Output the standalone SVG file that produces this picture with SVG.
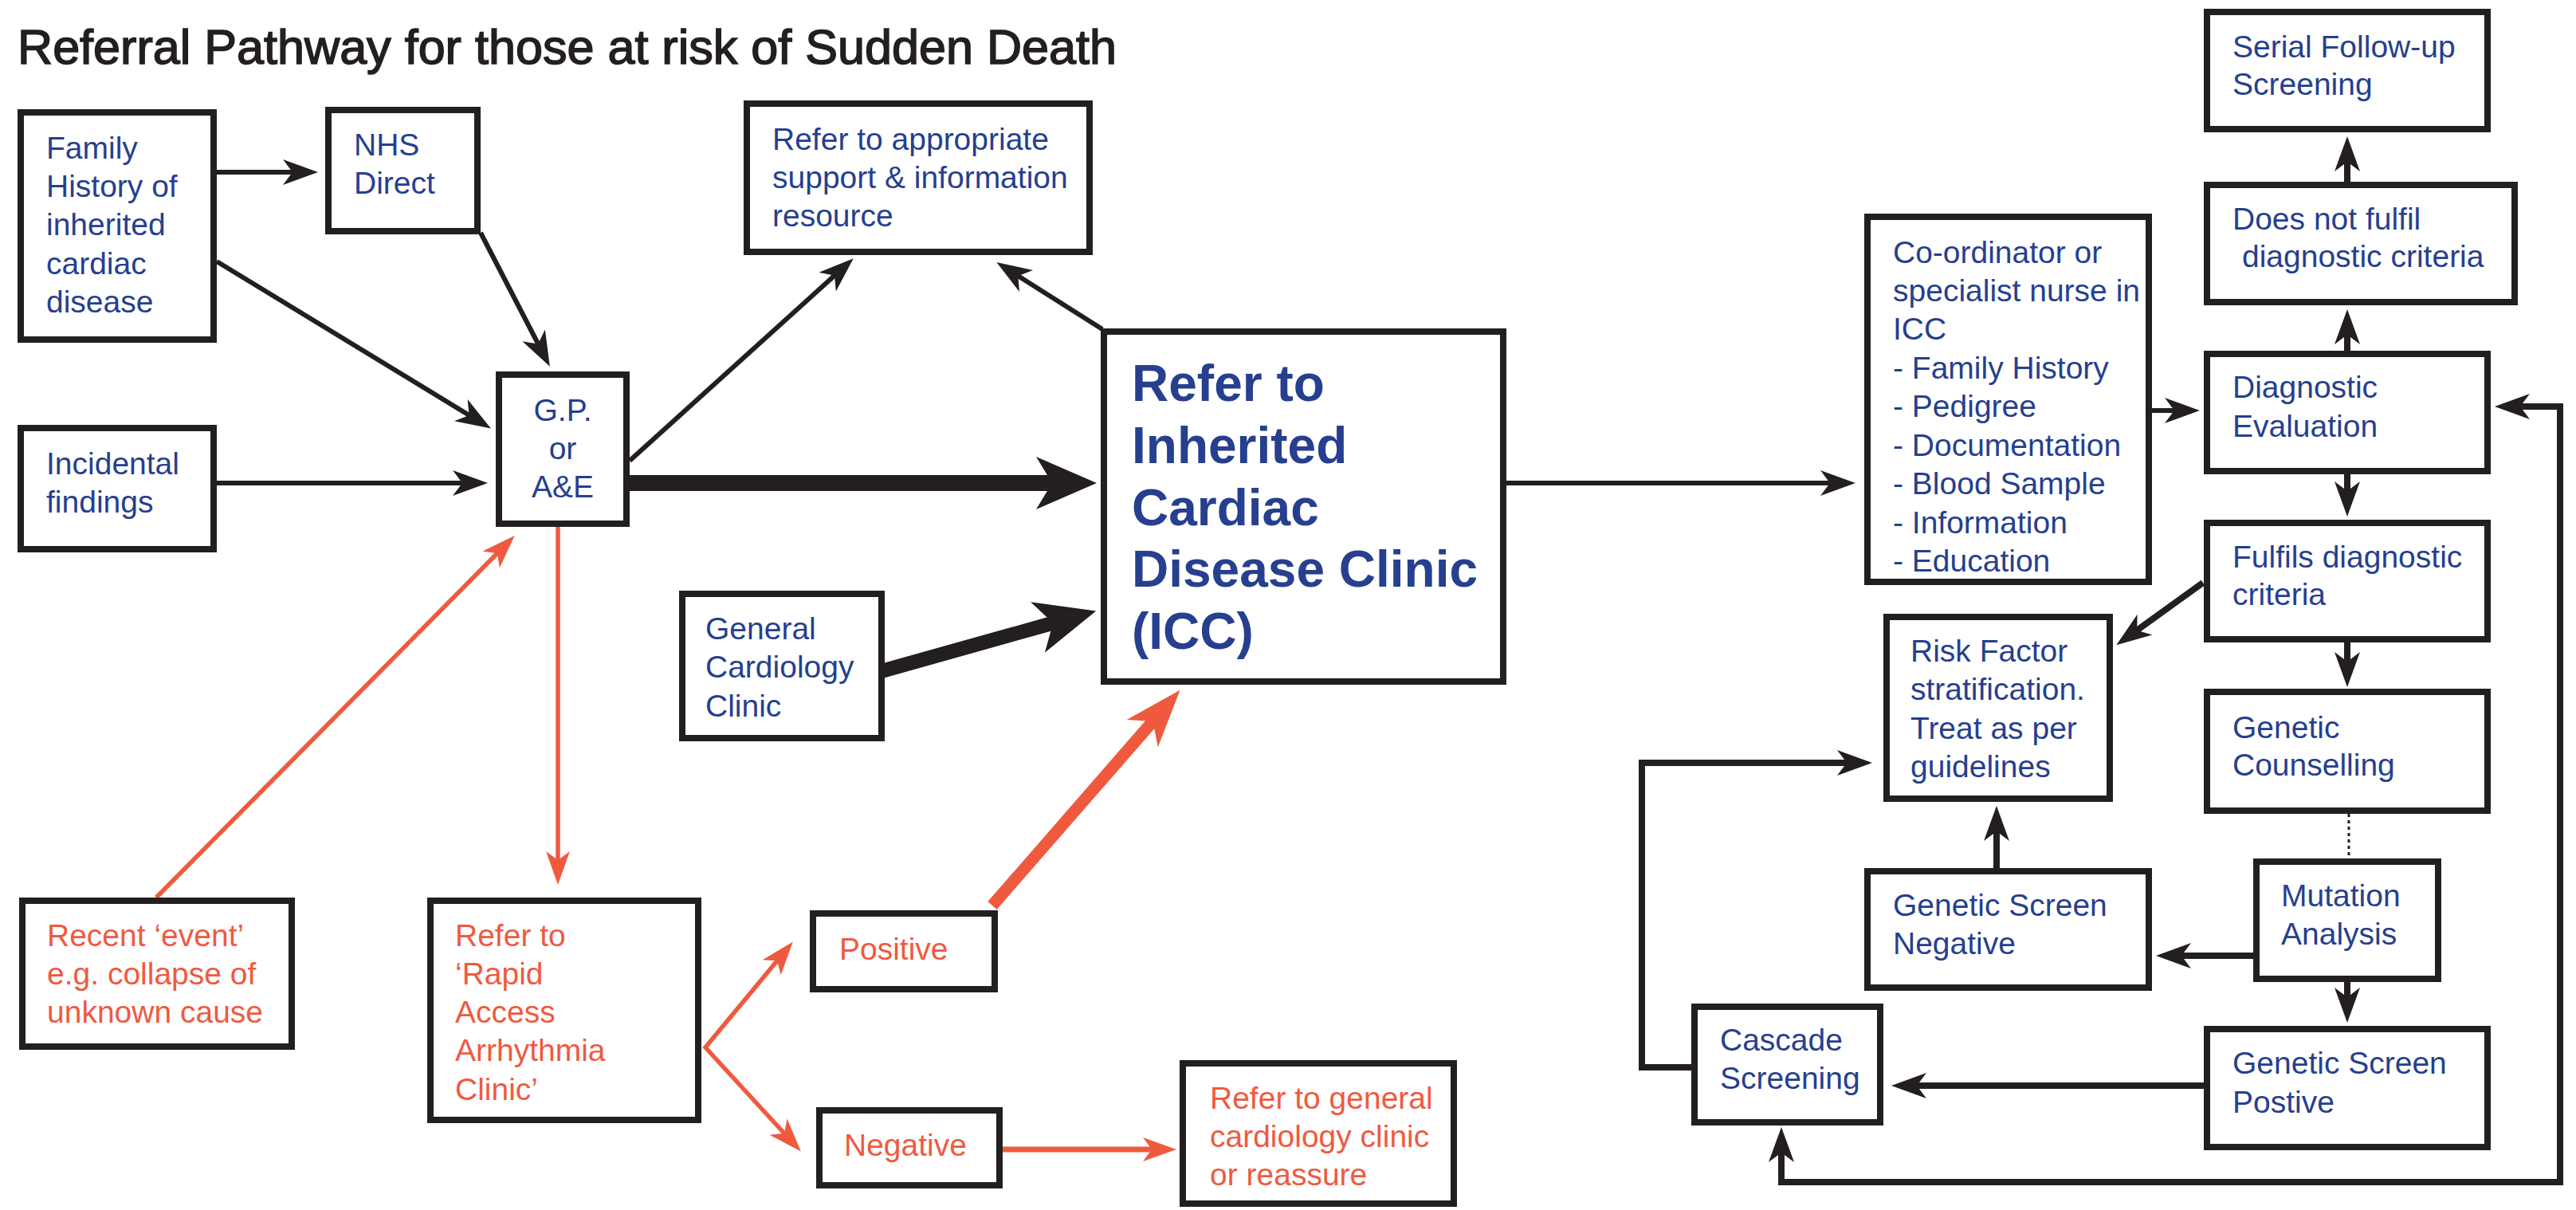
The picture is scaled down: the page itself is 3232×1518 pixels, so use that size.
<svg xmlns="http://www.w3.org/2000/svg" width="3232" height="1518" viewBox="0 0 3232 1518">
<defs>
<style>
.box{fill:#fff;stroke:#231f20;stroke-width:8}
.t{font-family:'Liberation Sans',Arial,sans-serif;font-size:39px;fill:#263f8f}
.r{fill:#ef5a3f}
.big{font-weight:bold;font-size:64px}
.title{font-family:'Liberation Sans',Arial,sans-serif;font-size:61px;fill:#231f20;stroke:#231f20;stroke-width:1.6}
.c{fill:none;stroke:#231f20;stroke-width:6}
.c7{fill:none;stroke:#231f20;stroke-width:8}
.cb{fill:none;stroke:#231f20;stroke-width:20}
.cb2{fill:none;stroke:#231f20;stroke-width:18}
.cr{fill:none;stroke:#ef5a3f;stroke-width:5.5}
.cr7{fill:none;stroke:#ef5a3f;stroke-width:7}
.crb{fill:none;stroke:#ef5a3f;stroke-width:15}
</style>
<marker id="ab" viewBox="-46 -18 48 36" markerWidth="48" markerHeight="36" refX="-28" refY="0" orient="auto-start-reverse" markerUnits="userSpaceOnUse"><path d="M0,0 L-44,-16 L-32,0 L-44,16 Z" fill="#231f20"/></marker>
<marker id="abb" viewBox="-80 -36 84 72" markerWidth="84" markerHeight="72" refX="-50" refY="0" orient="auto-start-reverse" markerUnits="userSpaceOnUse"><path d="M0,0 L-76,-33 L-56,0 L-76,33 Z" fill="#231f20"/></marker>
<marker id="ar" viewBox="-46 -18 48 36" markerWidth="48" markerHeight="36" refX="-28" refY="0" orient="auto-start-reverse" markerUnits="userSpaceOnUse"><path d="M0,0 L-42,-15 L-31,0 L-42,15 Z" fill="#ef5a3f"/></marker>
<marker id="arb" viewBox="-76 -30 80 60" markerWidth="80" markerHeight="60" refX="-48" refY="0" orient="auto-start-reverse" markerUnits="userSpaceOnUse"><path d="M0,0 L-72,-26 L-52,0 L-72,26 Z" fill="#ef5a3f"/></marker>
</defs>
<rect width="3232" height="1518" fill="#fff"/>
<text class="title" x="22" y="80" textLength="1379" lengthAdjust="spacingAndGlyphs">Referral Pathway for those at risk of Sudden Death</text>

<g id="connectors">
<line class="c" x1="272" y1="216" x2="371" y2="216" marker-end="url(#ab)"/>
<line class="c" x1="272" y1="328" x2="592" y2="523" marker-end="url(#ab)"/>
<line class="c" x1="603" y1="292" x2="677" y2="435" marker-end="url(#ab)"/>
<line class="c" x1="272" y1="606" x2="584" y2="606" marker-end="url(#ab)"/>
<line class="c" x1="790" y1="578" x2="1050" y2="343" marker-end="url(#ab)"/>
<line class="c" x1="1383" y1="413" x2="1274" y2="344" marker-end="url(#ab)"/>
<line class="cb" x1="790" y1="606" x2="1326" y2="606" marker-end="url(#abb)"/>
<line class="cb2" x1="1106" y1="842" x2="1327" y2="780" marker-end="url(#abb)"/>
<line class="c" x1="1890" y1="606" x2="2300" y2="606" marker-end="url(#ab)"/>
<line class="c" x1="2700" y1="515" x2="2732" y2="515" marker-end="url(#ab)"/>
<line class="c7" x1="2945" y1="440" x2="2945" y2="416" marker-end="url(#ab)"/>
<line class="c7" x1="2945" y1="228" x2="2945" y2="199" marker-end="url(#ab)"/>
<line class="c7" x1="2945" y1="595" x2="2945" y2="620" marker-end="url(#ab)"/>
<line class="c7" x1="2764" y1="731" x2="2678" y2="793" marker-end="url(#ab)"/>
<line class="c7" x1="2945" y1="806" x2="2945" y2="834" marker-end="url(#ab)"/>
<line x1="2947" y1="1021" x2="2947" y2="1077" stroke="#231f20" stroke-width="3" stroke-dasharray="4 4"/>
<line class="c7" x1="2827" y1="1199" x2="2733" y2="1199" marker-end="url(#ab)"/>
<line class="c7" x1="2505" y1="1089" x2="2505" y2="1039" marker-end="url(#ab)"/>
<line class="c7" x1="2945" y1="1232" x2="2945" y2="1255" marker-end="url(#ab)"/>
<line class="c7" x1="2765" y1="1362" x2="2401" y2="1362" marker-end="url(#ab)"/>
<path class="c7" d="M2126,1339 H2060 V957 H2321" marker-end="url(#ab)"/>
<path class="c7" d="M2235,1442 V1483 H3212 V510 H3158" marker-start="url(#ab)" marker-end="url(#ab)"/>
<line class="cr" x1="700" y1="661" x2="700" y2="1082" marker-end="url(#ar)"/>
<line class="cr" x1="196" y1="1126" x2="626" y2="692" marker-end="url(#ar)"/>
<path class="cr" d="M977,1203 L885,1314 L986,1424" marker-start="url(#ar)" marker-end="url(#ar)"/>
<line class="cr7" x1="1258" y1="1442" x2="1448" y2="1442" marker-end="url(#ar)"/>
<line class="crb" x1="1245" y1="1136" x2="1449" y2="902" marker-end="url(#arb)"/>
</g>

<g id="family"><rect class="box" x="26" y="141" width="242" height="285"/>
<text class="t"><tspan x="58" y="199">Family</tspan><tspan x="58" y="247">History of</tspan><tspan x="58" y="295">inherited</tspan><tspan x="58" y="344">cardiac</tspan><tspan x="58" y="392">disease</tspan></text></g>
<g id="nhs"><rect class="box" x="412" y="138" width="187" height="152"/>
<text class="t"><tspan x="444" y="195">NHS</tspan><tspan x="444" y="243">Direct</tspan></text></g>
<g id="support"><rect class="box" x="937" y="130" width="430" height="186"/>
<text class="t"><tspan x="969" y="188">Refer to appropriate</tspan><tspan x="969" y="236">support &amp; information</tspan><tspan x="969" y="284">resource</tspan></text></g>
<g id="gp"><rect class="box" x="626" y="470" width="160" height="187"/>
<text class="t" text-anchor="middle"><tspan x="706" y="528">G.P.</tspan><tspan x="706" y="576">or</tspan><tspan x="706" y="624">A&amp;E</tspan></text></g>
<g id="incidental"><rect class="box" x="26" y="537" width="242" height="152"/>
<text class="t"><tspan x="58" y="595">Incidental</tspan><tspan x="58" y="643">findings</tspan></text></g>
<g id="icc"><rect class="box" x="1385" y="416" width="501" height="439"/>
<text class="t big"><tspan x="1420" y="503">Refer to</tspan><tspan x="1420" y="581">Inherited</tspan><tspan x="1420" y="659">Cardiac</tspan><tspan x="1420" y="736">Disease Clinic</tspan><tspan x="1420" y="814">(ICC)</tspan></text></g>
<g id="gcc"><rect class="box" x="856" y="745" width="250" height="181"/>
<text class="t"><tspan x="885" y="802">General</tspan><tspan x="885" y="850">Cardiology</tspan><tspan x="885" y="899">Clinic</tspan></text></g>
<g id="recent"><rect class="box" x="28" y="1130" width="338" height="183"/>
<text class="t r"><tspan x="59" y="1187">Recent ‘event’</tspan><tspan x="59" y="1235">e.g. collapse of</tspan><tspan x="59" y="1283">unknown cause</tspan></text></g>
<g id="rapid"><rect class="box" x="540" y="1130" width="336" height="275"/>
<text class="t r"><tspan x="571" y="1187">Refer to</tspan><tspan x="571" y="1235">‘Rapid</tspan><tspan x="571" y="1283">Access</tspan><tspan x="571" y="1331">Arrhythmia</tspan><tspan x="571" y="1380">Clinic’</tspan></text></g>
<g id="positive"><rect class="box" x="1020" y="1146" width="228" height="95"/>
<text class="t r" x="1053" y="1204">Positive</text></g>
<g id="negative"><rect class="box" x="1028" y="1393" width="226" height="94"/>
<text class="t r" x="1059" y="1450">Negative</text></g>
<g id="general"><rect class="box" x="1484" y="1334" width="340" height="176"/>
<text class="t r"><tspan x="1518" y="1391">Refer to general</tspan><tspan x="1518" y="1439">cardiology clinic</tspan><tspan x="1518" y="1487">or reassure</tspan></text></g>
<g id="coordinator"><rect class="box" x="2343" y="272" width="353" height="458"/>
<text class="t"><tspan x="2375" y="330">Co-ordinator or</tspan><tspan x="2375" y="378">specialist nurse in</tspan><tspan x="2375" y="426">ICC</tspan><tspan x="2375" y="475">- Family History</tspan><tspan x="2375" y="523">- Pedigree</tspan><tspan x="2375" y="572">- Documentation</tspan><tspan x="2375" y="620">- Blood Sample</tspan><tspan x="2375" y="669">- Information</tspan><tspan x="2375" y="717">- Education</tspan></text></g>
<g id="serial"><rect class="box" x="2769" y="15" width="352" height="147"/>
<text class="t"><tspan x="2801" y="72">Serial Follow-up</tspan><tspan x="2801" y="119">Screening</tspan></text></g>
<g id="notfulfil"><rect class="box" x="2769" y="232" width="386" height="147"/>
<text class="t"><tspan x="2801" y="288">Does not fulfil</tspan><tspan x="2813" y="335">diagnostic criteria</tspan></text></g>
<g id="diagnostic"><rect class="box" x="2769" y="444" width="352" height="147"/>
<text class="t"><tspan x="2801" y="499">Diagnostic</tspan><tspan x="2801" y="548">Evaluation</tspan></text></g>
<g id="fulfils"><rect class="box" x="2769" y="656" width="352" height="146"/>
<text class="t"><tspan x="2801" y="712">Fulfils diagnostic</tspan><tspan x="2801" y="759">criteria</tspan></text></g>
<g id="risk"><rect class="box" x="2367" y="774" width="280" height="228"/>
<text class="t"><tspan x="2397" y="830">Risk Factor</tspan><tspan x="2397" y="878">stratification.</tspan><tspan x="2397" y="927">Treat as per</tspan><tspan x="2397" y="975">guidelines</tspan></text></g>
<g id="counselling"><rect class="box" x="2769" y="868" width="352" height="149"/>
<text class="t"><tspan x="2801" y="926">Genetic</tspan><tspan x="2801" y="973">Counselling</tspan></text></g>
<g id="mutation"><rect class="box" x="2831" y="1081" width="228" height="147"/>
<text class="t"><tspan x="2862" y="1137">Mutation</tspan><tspan x="2862" y="1185">Analysis</tspan></text></g>
<g id="gsneg"><rect class="box" x="2343" y="1093" width="353" height="146"/>
<text class="t"><tspan x="2375" y="1149">Genetic Screen</tspan><tspan x="2375" y="1197">Negative</tspan></text></g>
<g id="cascade"><rect class="box" x="2126" y="1263" width="233" height="145"/>
<text class="t"><tspan x="2158" y="1318">Cascade</tspan><tspan x="2158" y="1366">Screening</tspan></text></g>
<g id="gspos"><rect class="box" x="2769" y="1291" width="352" height="148"/>
<text class="t"><tspan x="2801" y="1347">Genetic Screen</tspan><tspan x="2801" y="1396">Postive</tspan></text></g>
</svg>
